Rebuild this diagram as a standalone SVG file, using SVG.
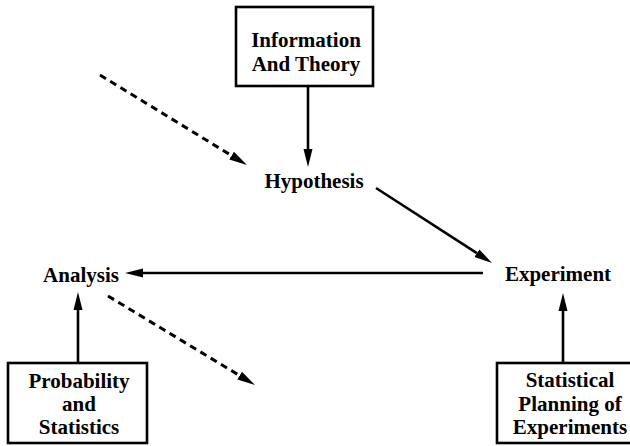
<svg xmlns="http://www.w3.org/2000/svg" width="630" height="446" viewBox="0 0 630 446">
  <style>
    .box { fill: #fff; stroke: #000; stroke-width: 2.6; }
    .lbl { font-family: "Liberation Serif", "Times New Roman", serif; font-weight: bold; font-size: 21px; fill: #000; text-anchor: middle; }
    .solid { stroke: #000; stroke-width: 2.6; fill: none; marker-end: url(#head); }
    .dash { stroke: #000; stroke-width: 3; fill: none; stroke-dasharray: 7 5; marker-end: url(#head); }
  </style>
  <defs>
    <marker id="head" markerUnits="userSpaceOnUse" viewBox="0 -5 20 10" markerWidth="20" markerHeight="10" refX="0" refY="0" orient="auto">
      <path d="M0,-4.5 L18,0 L0,4.5 Z" fill="#000"/>
    </marker>
  </defs>
  <rect width="630" height="446" fill="#fff"/>

  <g id="connectors">
    <line class="solid" x1="308" y1="86" x2="308" y2="149"/>
    <line class="solid" x1="376" y1="188" x2="476.9" y2="253.2"/>
    <line class="solid" x1="483" y1="273" x2="143" y2="273"/>
    <line class="solid" x1="78" y1="363" x2="78" y2="310"/>
    <line class="solid" x1="563" y1="363" x2="563" y2="311"/>
    <line class="dash" x1="100" y1="75" x2="231.6" y2="155.6"/>
    <line class="dash" x1="108" y1="296" x2="239.6" y2="375.6"/>
  </g>

  <g id="information">
    <rect class="box" x="236" y="7" width="137" height="79"/>
    <text class="lbl" x="306" y="47">Information</text>
    <text class="lbl" x="306" y="71">And Theory</text>
  </g>

  <g id="hypothesis">
    <text class="lbl" x="314" y="188">Hypothesis</text>
  </g>

  <g id="experiment">
    <text class="lbl" x="558" y="281">Experiment</text>
  </g>

  <g id="analysis">
    <text class="lbl" x="81" y="282">Analysis</text>
  </g>

  <g id="probability">
    <rect class="box" x="8" y="363" width="139" height="80"/>
    <text class="lbl" x="79" y="388">Probability</text>
    <text class="lbl" x="79" y="411">and</text>
    <text class="lbl" x="79" y="434">Statistics</text>
  </g>

  <g id="planning">
    <rect class="box" x="497" y="363" width="138" height="80"/>
    <text class="lbl" x="570" y="387">Statistical</text>
    <text class="lbl" x="570" y="411">Planning of</text>
    <text class="lbl" x="570" y="434">Experiments</text>
  </g>
</svg>
